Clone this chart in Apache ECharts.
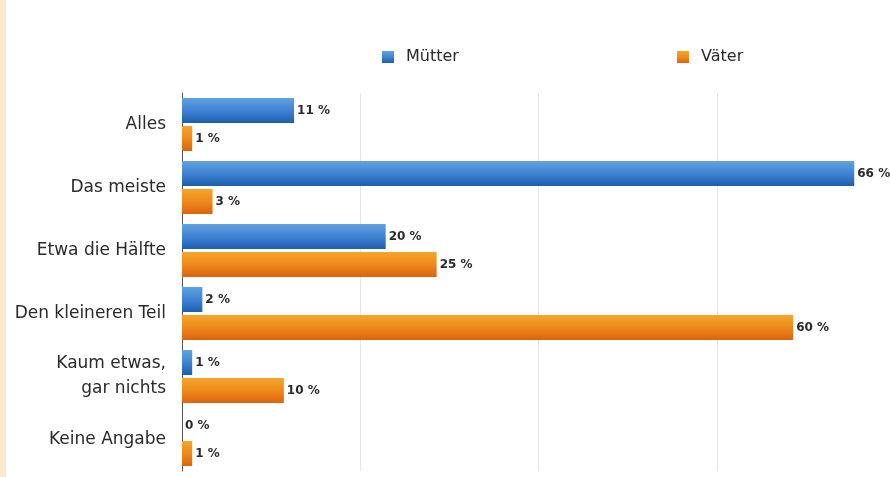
<!DOCTYPE html>
<html>
<head>
<meta charset="utf-8">
<script src="https://cdn.jsdelivr.net/npm/echarts@6/dist/echarts.min.js"></script>
<style>
  html, body { margin: 0; padding: 0; background: #ffffff; overflow: hidden; width: 890px; height: 477px; }
  #chart { width: 900px; height: 477px; }
</style>
</head>
<body>
<div id="chart"></div>
<script>
const categories = ['Alles', 'Das meiste', 'Etwa die Hälfte', 'Den kleineren Teil', 'Kaum etwas,\ngar nichts', 'Keine Angabe'];
const seriesNames = ['Mütter', 'Väter'];
const muetter = [11, 66, 20, 2, 1, 0];
const vaeter = [1, 3, 25, 60, 10, 1];

const FONT = 'DejaVu Sans';
const chart = echarts.init(document.getElementById('chart'), null, { renderer: 'canvas' });

const blue = new echarts.graphic.LinearGradient(0, 0, 0, 1, [
  { offset: 0, color: '#62a2e2' },
  { offset: 0.5, color: '#3f84d2' },
  { offset: 1, color: '#1d5daf' }
]);
const orange = new echarts.graphic.LinearGradient(0, 0, 0, 1, [
  { offset: 0, color: '#f5a52c' },
  { offset: 0.5, color: '#ee8a1b' },
  { offset: 1, color: '#db630e' }
]);

const labelCfg = {
  show: true,
  position: 'right',
  distance: 3,
  formatter: '{c} %',
  color: '#2a2a2a',
  fontFamily: FONT,
  fontWeight: 'bold',
  fontSize: 12
};

const legendBase = {
  orient: 'horizontal',
  top: 49,
  padding: 0,
  itemWidth: 12,
  itemHeight: 12,
  icon: 'rect',
  selectedMode: false,
  textStyle: { fontFamily: FONT, fontSize: 16, color: '#2a2a2a', padding: [0, 0, 0, 7] }
};

chart.setOption({
  animation: false,
  backgroundColor: '#ffffff',
  graphic: [
    { type: 'rect', left: 0, top: 0, shape: { width: 6, height: 477 }, style: { fill: '#fbe8cf' }, z: 0 }
  ],
  legend: [
    Object.assign({}, legendBase, { left: 382, data: [seriesNames[0]] }),
    Object.assign({}, legendBase, { left: 677, data: [seriesNames[1]] })
  ],
  grid: { left: 182, right: 5, top: 93, bottom: 6, containLabel: false },
  xAxis: {
    type: 'value',
    min: 0,
    max: 70,
    interval: 17.5,
    axisLabel: { show: false },
    axisLine: { show: false },
    axisTick: { show: false },
    splitLine: { show: true, lineStyle: { color: '#e6e6e6', width: 1 } }
  },
  yAxis: {
    type: 'category',
    inverse: true,
    data: categories,
    axisTick: { show: false },
    axisLine: { show: true, lineStyle: { color: '#555555', width: 1 } },
    axisLabel: { fontFamily: FONT, fontSize: 17, color: '#2a2a2a', margin: 16, lineHeight: 25, align: 'right' }
  },
  series: [
    {
      name: seriesNames[0],
      type: 'bar',
      data: muetter,
      barWidth: 25,
      barGap: '12%',
      itemStyle: { color: blue },
      label: labelCfg
    },
    {
      name: seriesNames[1],
      type: 'bar',
      data: vaeter,
      barWidth: 25,
      barGap: '12%',
      itemStyle: { color: orange },
      label: labelCfg
    }
  ]
});
</script>
</body>
</html>
